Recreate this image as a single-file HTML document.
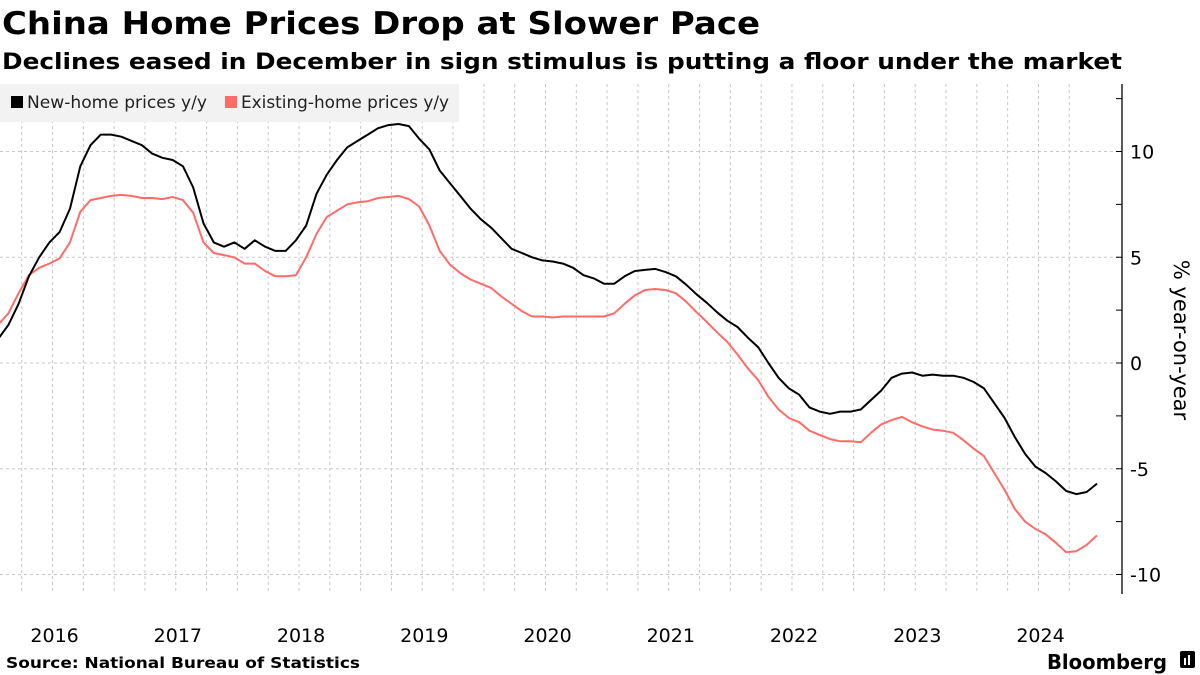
<!DOCTYPE html>
<html><head><meta charset="utf-8"><style>
html,body{margin:0;padding:0;background:#fff;}
svg{display:block;font-family:"DejaVu Sans","Liberation Sans",sans-serif;}
</style></head><body>
<svg id="chart" width="1200" height="675" viewBox="0 0 1200 675">
<text x="2" y="34" font-size="31" font-weight="bold" textLength="758" lengthAdjust="spacingAndGlyphs">China Home Prices Drop at Slower Pace</text>
<text x="2" y="69" font-size="22" font-weight="bold" textLength="1120" lengthAdjust="spacingAndGlyphs">Declines eased in December in sign stimulus is putting a floor under the market</text>
<g id="grid"></g>
<rect x="0" y="84" width="459" height="38" fill="#f2f2f2"/>
<g>
<rect x="11" y="96" width="12" height="12" fill="#000"/>
<text x="27" y="108" font-size="16.5" fill="#222" textLength="180" lengthAdjust="spacingAndGlyphs">New-home prices y/y</text>
</g>
<g>
<rect x="225" y="96" width="12" height="12" fill="#ff6b68"/>
<text x="241" y="108" font-size="16.5" fill="#222" textLength="208" lengthAdjust="spacingAndGlyphs">Existing-home prices y/y</text>
</g>
<g id="series"></g>
<g id="axis"></g>
<g id="xaxis"></g>
<text transform="translate(1174,340) rotate(90)" text-anchor="middle" font-size="21" fill="#000">% year-on-year</text>
<text x="6" y="668" font-size="15.5" font-weight="bold" textLength="354" lengthAdjust="spacingAndGlyphs">Source: National Bureau of Statistics</text>
<text x="1047" y="669" font-size="20" font-weight="bold" textLength="120" lengthAdjust="spacingAndGlyphs">Bloomberg</text>
<g><rect x="1180" y="651" width="15" height="17" rx="2" fill="#000"/><rect x="1184" y="658" width="2" height="7" fill="#fff"/><rect x="1188" y="655" width="2" height="10" fill="#fff"/></g>
</svg>
<script>
const years = [2016,2017,2018,2019,2020,2021,2022,2023,2024];
const yTicks = [10,5,0,-5,-10];
const newHome = [1.13,1.8,2.8,4.1,5.0,5.7,6.2,7.3,9.3,10.3,10.8,10.8,10.7,10.5,10.3,9.9,9.7,9.6,9.3,8.3,6.6,5.7,5.5,5.7,5.4,5.8,5.5,5.3,5.3,5.8,6.5,8.0,8.9,9.6,10.2,10.5,10.8,11.1,11.25,11.3,11.2,10.6,10.1,9.1,8.5,7.9,7.3,6.8,6.4,5.9,5.4,5.2,5.0,4.85,4.8,4.7,4.5,4.15,4.0,3.75,3.75,4.1,4.35,4.4,4.45,4.3,4.1,3.7,3.25,2.85,2.4,2.0,1.7,1.2,0.75,0,-0.7,-1.2,-1.5,-2.1,-2.3,-2.4,-2.3,-2.3,-2.2,-1.75,-1.3,-0.7,-0.5,-0.45,-0.6,-0.55,-0.6,-0.6,-0.7,-0.9,-1.2,-1.9,-2.6,-3.5,-4.3,-4.9,-5.2,-5.6,-6.05,-6.2,-6.1,-5.7];
const existingHome = [1.8,2.35,3.3,4.15,4.5,4.7,4.95,5.7,7.15,7.7,7.8,7.9,7.95,7.9,7.8,7.8,7.75,7.85,7.7,7.1,5.7,5.2,5.1,5.0,4.7,4.7,4.35,4.1,4.1,4.15,5.0,6.1,6.9,7.2,7.5,7.6,7.65,7.8,7.85,7.9,7.75,7.4,6.5,5.3,4.65,4.25,3.95,3.75,3.55,3.15,2.8,2.45,2.2,2.2,2.15,2.2,2.2,2.2,2.2,2.2,2.35,2.8,3.2,3.45,3.5,3.45,3.3,2.9,2.4,1.95,1.45,1.0,0.4,-0.25,-0.8,-1.6,-2.2,-2.6,-2.8,-3.2,-3.4,-3.6,-3.7,-3.7,-3.75,-3.3,-2.9,-2.7,-2.55,-2.8,-3.0,-3.15,-3.2,-3.3,-3.65,-4.05,-4.4,-5.2,-6.0,-6.9,-7.5,-7.85,-8.1,-8.5,-8.95,-8.9,-8.6,-8.15];

const NS='http://www.w3.org/2000/svg';
const xS = i => -1.9 + i*10.27;
const yS = v => 363 - v*21.15;
function mk(tag, attrs, parent){const e=document.createElementNS(NS,tag);for(const k in attrs)e.setAttribute(k,attrs[k]);parent.appendChild(e);return e;}
const grid=document.getElementById('grid');
for(let i=2.3;xS(i)<=1100;i+=3){
  const l=mk('line',{x1:xS(i),x2:xS(i),y1:84,y2:594,stroke:'#c8c8c8','stroke-dasharray':'3,3','stroke-width':1},grid);
  
  
}
const axis=document.getElementById('axis');
yTicks.forEach(v=>{
  const l=mk('line',{x1:0,x2:1122,y1:yS(v),y2:yS(v),stroke:'#c8c8c8','stroke-dasharray':'3,3','stroke-width':1},grid);
  
  
  const t=mk('text',{x:1130,y:yS(v)+7,'font-size':19,fill:'#000'},axis);
  t.textContent=v;
  
  
});
for(let v=-10;v<=12.5;v+=2.5){
  mk('line',{x1:1116,x2:1122,y1:yS(v),y2:yS(v),stroke:'#000','stroke-width':1},axis);
}
const al=mk('line',{x1:1122,x2:1122,y1:84,y2:594,stroke:'#000','stroke-width':1.3},axis);


const xa=document.getElementById('xaxis');
years.forEach((y,k)=>{
  const t=mk('text',{x:xS(12*k+5.5),y:642,'font-size':19,'text-anchor':'middle',fill:'#000'},xa);
  t.textContent=y;
  
  
});
const series=document.getElementById('series');
function line(data,color,name){
  const d=data.map((v,i)=>(i?'L':'M')+xS(i).toFixed(1)+','+yS(v).toFixed(1)).join('');
  const p=mk('path',{d:d,fill:'none',stroke:color,'stroke-width':2,'stroke-linejoin':'round'},series);
  
  
}
line(existingHome,'#ff6b68','existing-home-line');
line(newHome,'#000','new-home-line');
</script>
</body></html>
